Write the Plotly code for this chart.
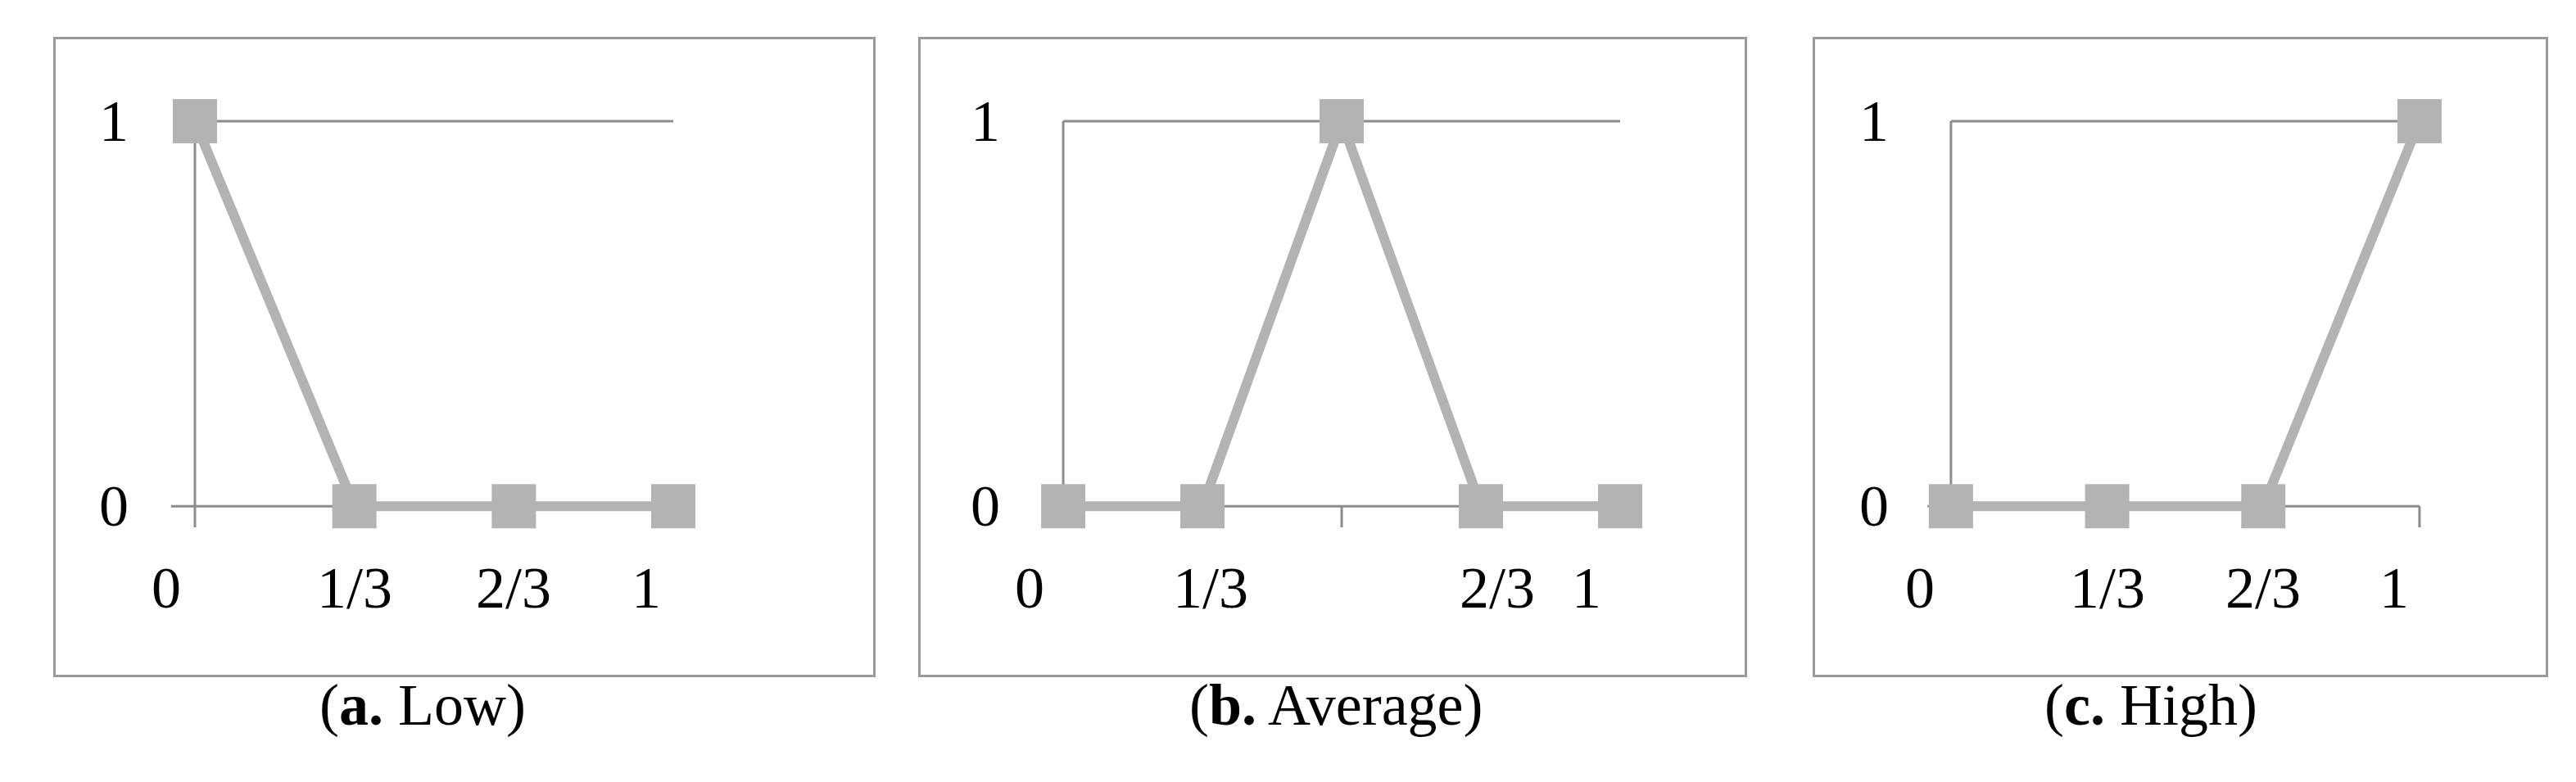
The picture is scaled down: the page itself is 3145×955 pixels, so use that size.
import plotly.graph_objects as go

# --- DATA ---
low_y = [1, 0, 0, 0]
avg_y = [0, 0, 1, 0, 0]
high_y = [0, 0, 0, 1]
x_labels = ["0", "1/3", "2/3", "1"]
# where the category labels sit along each panel's x axis (data units)
low_label_x = [-0.18, 1.0, 2.0, 2.83]
avg_label_x = [-0.24, 1.06, 3.12, 3.76]
high_label_x = [-0.2, 1.0, 2.0, 2.84]
captions = [("a.", "Low"), ("b.", "Average"), ("c.", "High")]

W, H = 3145, 955
GRID = "#8c8c8c"
BOX = "#999999"
SERIES = "#b3b3b3"
FONT = "Liberation Serif"
FS = 72

panels = [
    # series, label x, x range, box px (left, right), y-tick label x, extra x tick, caption x
    (low_y, low_label_x, [-0.873, 4.253], (60, 1058), -0.51, None, 380),
    (avg_y, avg_label_x, [-1.024, 4.894], (1116, 2122), -0.56, 2, 1624),
    (high_y, high_label_x, [-0.870, 3.808], (2208, 3100), -0.49, 3, 2750),
]

fig = go.Figure()
y_dom = [1 - 816 / H, 1 - 40 / H]
y_rng = [-0.438, 1.213]

for i, (ys, lx, xr, (l, r), ylx, tick_x, cap_x) in enumerate(panels):
    n = i + 1
    xa = "x" if n == 1 else f"x{n}"
    ya = "y" if n == 1 else f"y{n}"
    xs = list(range(len(ys)))
    last = xs[-1]

    # axis lines / gridline, kept under the series
    line = dict(color=GRID, width=3)
    fig.add_shape(type="line", xref=xa, yref=ya, x0=0, x1=last, y0=1, y1=1, line=line, layer="below")
    fig.add_shape(type="line", xref=xa, yref=ya, x0=-0.15, x1=last, y0=0, y1=0, line=line, layer="below")
    fig.add_shape(type="line", xref=xa, yref=ya, x0=0, x1=0, y0=-0.055, y1=1, line=line, layer="below")
    if tick_x is not None:
        fig.add_shape(type="line", xref=xa, yref=ya, x0=tick_x, x1=tick_x, y0=-0.055, y1=0,
                      line=line, layer="below")

    fig.add_trace(go.Scatter(
        x=xs, y=ys, mode="lines+markers", xaxis=xa, yaxis=ya,
        line=dict(color=SERIES, width=12),
        marker=dict(symbol="square", size=54, color=SERIES),
        showlegend=False, hoverinfo="skip", cliponaxis=False,
    ))

    for txt, x in zip(x_labels, lx):
        fig.add_annotation(x=x, y=-0.213, xref=xa, yref=ya, text=txt, showarrow=False,
                           font=dict(family=FONT, size=FS, color="black"))
    for v in [0, 1]:
        fig.add_annotation(x=ylx, y=v, xref=xa, yref=ya, text=str(v), showarrow=False,
                           font=dict(family=FONT, size=FS, color="black"))

    bold, word = captions[i]
    fig.add_annotation(x=cap_x / W, y=1 - 895 / H, xref="paper", yref="paper",
                       text=f"(<b>{bold}</b> {word})", showarrow=False,
                       font=dict(family=FONT, size=FS, color="black"))

    axis_common = dict(showgrid=False, zeroline=False, showticklabels=False, ticks="",
                       showline=True, mirror=True, linecolor=BOX, linewidth=3)
    fig.update_layout({
        ("xaxis" if n == 1 else f"xaxis{n}"): dict(domain=[l / W, r / W], range=xr,
                                                   anchor=ya, **axis_common),
        ("yaxis" if n == 1 else f"yaxis{n}"): dict(domain=y_dom, range=y_rng,
                                                   anchor=xa, **axis_common),
    })

fig.update_layout(width=W, height=H, margin=dict(l=0, r=0, t=0, b=0),
                  paper_bgcolor="white", plot_bgcolor="white")

fig.write_html("out.html")
